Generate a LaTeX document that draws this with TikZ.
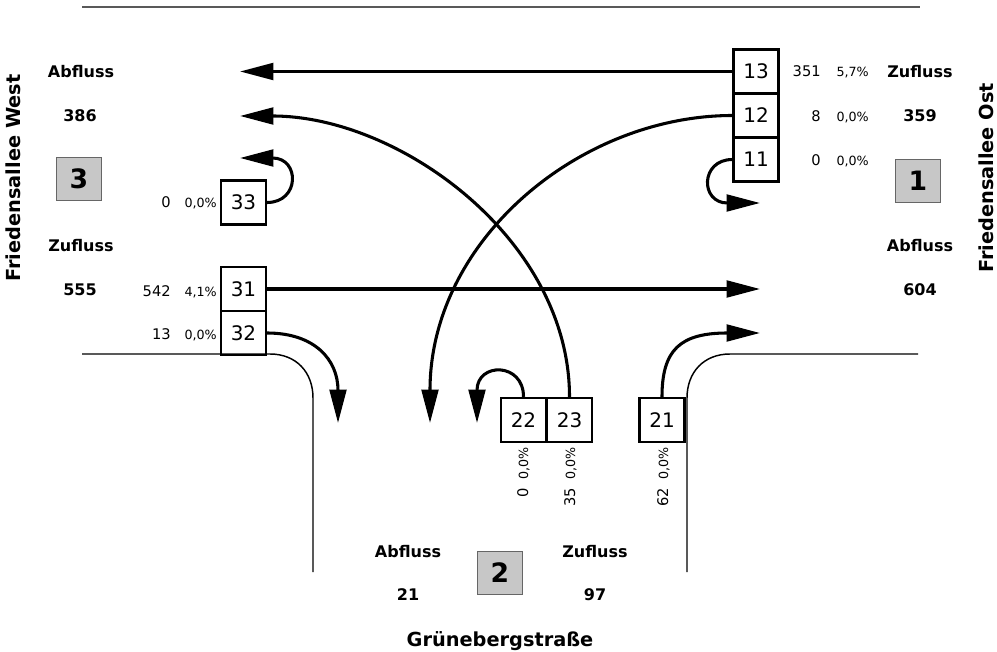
\documentclass[tikz,border=0pt]{standalone}
\usepackage{fontspec}
\setmainfont{DejaVu Sans}
\usetikzlibrary{arrows.meta}
\tikzset{
	dir/.style={draw, line width=1.8pt, minimum width=33.5pt, minimum height=33pt, inner sep=0pt, font=\fontsize{15}{17}\selectfont},
	zone/.style={draw=black!60, fill=black!22, line width=0.6pt, minimum width=34pt, minimum height=32pt, inner sep=0pt, font=\bfseries\fontsize{20}{22}\selectfont},
	flow/.style={line width=2.3pt, -{Triangle[length=25pt,width=12.5pt]}},
	road/.style={line width=1.1pt},
	lbl/.style={inner sep=0pt, font=\bfseries\fontsize{12}{14}\selectfont},
	street/.style={inner sep=0pt, font=\bfseries\fontsize{14.5}{16}\selectfont},
	cnt/.style={inner sep=0pt, anchor=base east, font=\fontsize{11}{13}\selectfont},
	pct/.style={inner sep=0pt, anchor=base east, font=\fontsize{9.5}{11}\selectfont}
}

\begin{document}
\begin{tikzpicture}[x=0.75pt,y=-0.75pt]
	\useasboundingbox (0,0) rectangle (997,652);

	\draw [line width=1.5pt, black!65] (82,7) -- (920,7);
	\draw [road] (82,354) -- (270,354) .. controls (296,354) and (313,372) .. (313,398) -- (313,572);
	\draw [road] (687,572) -- (687,398) .. controls (687,372) and (704,354) .. (730,354) -- (918,354);

	\node [dir] (b13) at (756,71.5) {13};
	\node [dir] (b12) at (756,115.5) {12};
	\node [dir] (b11) at (756,159.5) {11};
	\node [dir] (b33) at (243.5,202.5) {33};
	\node [dir] (b31) at (243.5,289) {31};
	\node [dir] (b32) at (243.5,333) {32};
	\node [dir] (b22) at (523.5,420) {22};
	\node [dir] (b23) at (569.5,420) {23};
	\node [dir] (b21) at (662,420) {21};

	\node [zone] (z1) at (918,181) {1};
	\node [zone] (z2) at (500,573) {2};
	\node [zone] (z3) at (79,179) {3};

	\coordinate (w13) at (240,71.5);
	\coordinate (w23) at (240,116);
	\coordinate (w33) at (240,158);
	\coordinate (e11) at (760,203);
	\coordinate (e31) at (760,289);
	\coordinate (e21) at (760,333);
	\coordinate (s12) at (430,423);
	\coordinate (s22) at (477,423);
	\coordinate (s32) at (338,423);

	\draw [flow] (b13) -- (w13);
	\draw [flow] (b31) -- (e31);
	\draw [flow] (b12.west) .. controls (580,115.5) and (430,240) .. (s12);
	\draw [flow] (b23.north) .. controls (569.5,240) and (400,116) .. (w23);
	\draw [flow] (b33.east) .. controls (300,202.5) and (300,158) .. (w33);
	\draw [flow] (b11.west) .. controls (700,159.5) and (700,203) .. (e11);
	\draw [flow] (b22.north) .. controls (523.5,362) and (477,362) .. (s22);
	\draw [flow] (b32.east) .. controls (315,333) and (338,360) .. (s32);
	\draw [flow] (b21.north) .. controls (662,350) and (680,333) .. (e21);

	\node [cnt] (n13) at (821,77) {351};
	\node [pct] (p13) at (869,77) {5,7\%};
	\node [cnt] (n12) at (821,121.5) {8};
	\node [pct] (p12) at (869,121.5) {0,0\%};
	\node [cnt] (n11) at (821,166) {0};
	\node [pct] (p11) at (869,166) {0,0\%};
	\node [cnt] (n33) at (171,208) {0};
	\node [pct] (p33) at (217,208) {0,0\%};
	\node [cnt] (n31) at (171,297) {542};
	\node [pct] (p31) at (217,297) {4,1\%};
	\node [cnt] (n32) at (171,340) {13};
	\node [pct] (p32) at (217,340) {0,0\%};
	\node [pct, rotate=90] (p22) at (528,447) {0,0\%};
	\node [cnt, rotate=90] (n22) at (528,488) {0};
	\node [pct, rotate=90] (p23) at (575,447) {0,0\%};
	\node [cnt, rotate=90] (n23) at (575,488) {35};
	\node [pct, rotate=90] (p21) at (668,447) {0,0\%};
	\node [cnt, rotate=90] (n21) at (668,488) {62};

	\node [lbl] (aw) at (81,72) {Abfluss};
	\node [lbl] (vaw) at (80,116) {386};
	\node [lbl] (zw) at (81,246) {Zufluss};
	\node [lbl] (vzw) at (80,290) {555};
	\node [lbl] (zo) at (920,72) {Zufluss};
	\node [lbl] (vzo) at (920,116) {359};
	\node [lbl] (ao) at (920,246) {Abfluss};
	\node [lbl] (vao) at (920,290) {604};
	\node [lbl] (as) at (408,552) {Abfluss};
	\node [lbl] (vas) at (408,595) {21};
	\node [lbl] (zs) at (595,552) {Zufluss};
	\node [lbl] (vzs) at (595,595) {97};

	\node [street, rotate=90] (fw) at (13,178) {Friedensallee West};
	\node [street, rotate=90] (fo) at (986,178) {Friedensallee Ost};
	\node [street, anchor=base] (gs) at (500,646) {Grünebergstraße};
\end{tikzpicture}
\end{document}
